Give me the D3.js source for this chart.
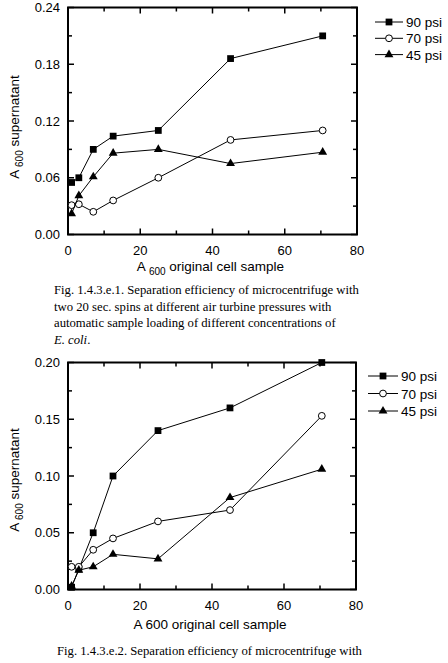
<!DOCTYPE html>
<html>
<head>
<meta charset="utf-8">
<script src="https://cdn.jsdelivr.net/npm/d3@7"></script>
<style>
  body { margin: 0; background: #fff; }
  svg { display: block; }
  .axis text { font-family: Arial, "Liberation Sans", sans-serif; font-size: 13px; fill: #000; }
  .label { font-family: Arial, "Liberation Sans", sans-serif; font-size: 13.5px; fill: #000; }
  .legend text { font-family: Arial, "Liberation Sans", sans-serif; font-size: 13.5px; fill: #000; }
  .caption { font-family: "Times New Roman", "Liberation Serif", serif; font-size: 12.7px; fill: #000; }
</style>
</head>
<body>
<svg width="448" height="663"></svg>
<script>
// Concentrations of the original cell sample (A600), shared by both figures
var xConc = [1, 3, 7, 12.5, 25, 45, 70.5];

var seriesNames = ["90 psi", "70 psi", "45 psi"];
var seriesShapes = ["square", "circle", "triangle"];

// Fig. 1.4.3.e.1
var fig1_90 = [0.055, 0.060, 0.090, 0.104, 0.110, 0.186, 0.210];
var fig1_70 = [0.031, 0.032, 0.024, 0.036, 0.060, 0.100, 0.110];
var fig1_45 = [0.022, 0.041, 0.061, 0.086, 0.090, 0.075, 0.087];

// Fig. 1.4.3.e.2
var fig2_90 = [0.002, 0.018, 0.050, 0.100, 0.140, 0.160, 0.200];
var fig2_70 = [0.020, 0.020, 0.035, 0.045, 0.060, 0.070, 0.153];
var fig2_45 = [0.003, 0.017, 0.020, 0.031, 0.027, 0.081, 0.106];

var xTicks = [0, 20, 40, 60, 80];
var xMinor = [10, 30, 50, 70];
var fig1_yTicks = [0, 0.06, 0.12, 0.18, 0.24];
var fig1_yMinor = [0.03, 0.09, 0.15, 0.21];
var fig2_yTicks = [0, 0.05, 0.10, 0.15, 0.20];
var fig2_yMinor = [0.025, 0.075, 0.125, 0.175];

var caption1 = [
  "Fig. 1.4.3.e.1. Separation efficiency of microcentrifuge with",
  "two 20 sec. spins at different air turbine pressures with",
  "automatic sample loading of different concentrations of"
];
var caption2 = ["Fig. 1.4.3.e.2. Separation efficiency of microcentrifuge with"];

var svg = d3.select("svg");
svg.append("rect").attr("width", 448).attr("height", 663).attr("fill", "#fff");

function Panel(opts){
  var g = svg.append("g")
    , x = d3.scaleLinear().domain([0, 80]).range([opts.left, opts.right])
    , y = d3.scaleLinear().domain(opts.yDomain).range([opts.bottom, opts.top])
    , majorLen = 6
    , minorLen = 4
  ;

  // Ticks on all four sides, pointing inward
  var ax = g.append("g").attr("class", "axis");
  function tickSet(vals, len, scale, horiz){
    vals.forEach(function(v){
      if(horiz){
        ax.append("line").attr("x1", scale(v)).attr("x2", scale(v))
          .attr("y1", opts.bottom).attr("y2", opts.bottom - len);
        ax.append("line").attr("x1", scale(v)).attr("x2", scale(v))
          .attr("y1", opts.top).attr("y2", opts.top + len);
      } else {
        ax.append("line").attr("y1", scale(v)).attr("y2", scale(v))
          .attr("x1", opts.left).attr("x2", opts.left + len);
        ax.append("line").attr("y1", scale(v)).attr("y2", scale(v))
          .attr("x1", opts.right).attr("x2", opts.right - len);
      }
    });
  }
  tickSet(xTicks, majorLen, x, true);
  tickSet(xMinor, minorLen, x, true);
  tickSet(opts.yTicks, majorLen, y, false);
  tickSet(opts.yMinor, minorLen, y, false);
  ax.selectAll("line").attr("stroke", "#000").attr("stroke-width", 1.5);

  // Tick labels
  ax.selectAll("text.xt").data(xTicks).enter().append("text")
      .attr("class", "xt")
      .attr("x", function(d){ return x(d); })
      .attr("y", opts.bottom + 20)
      .attr("text-anchor", "middle")
      .text(function(d){ return d; });
  ax.selectAll("text.yt").data(opts.yTicks).enter().append("text")
      .attr("class", "yt")
      .attr("x", opts.left - 8)
      .attr("y", function(d){ return y(d) + 4.5; })
      .attr("text-anchor", "end")
      .text(function(d){ return d.toFixed(2); });

  // Frame
  g.append("rect")
      .attr("x", opts.left).attr("y", opts.top)
      .attr("width", opts.right - opts.left).attr("height", opts.bottom - opts.top)
      .attr("fill", "none").attr("stroke", "#000").attr("stroke-width", 2);

  // Series lines and markers
  var line = d3.line()
      .x(function(d){ return x(d[0]); })
      .y(function(d){ return y(d[1]); });

  opts.series.forEach(function(vals, i){
    var pts = xConc.map(function(c, k){ return [c, vals[k]]; });
    g.append("path").datum(pts)
        .attr("d", line)
        .attr("fill", "none").attr("stroke", "#000").attr("stroke-width", 1);
    pts.forEach(function(p){ marker(g, seriesShapes[i], x(p[0]), y(p[1])); });
  });

  // Legend
  var lg = g.append("g").attr("class", "legend");
  seriesNames.forEach(function(name, i){
    var ly = opts.legend.y0 + i * opts.legend.step;
    lg.append("line")
        .attr("x1", opts.legend.x1).attr("x2", opts.legend.x2)
        .attr("y1", ly).attr("y2", ly)
        .attr("stroke", "#000").attr("stroke-width", 1);
    marker(lg, seriesShapes[i], (opts.legend.x1 + opts.legend.x2) / 2, ly);
    lg.append("text")
        .attr("x", opts.legend.x2 + 3).attr("y", ly + 5)
        .text(name);
  });

  // Axis titles
  var xl = g.append("text").attr("class", "label")
      .attr("x", (opts.left + opts.right) / 2 - 2)
      .attr("y", opts.xLabelY)
      .attr("text-anchor", "middle");
  if(opts.xSub){
    xl.append("tspan").text("A ");
    xl.append("tspan").attr("font-size", 10).attr("dy", 4).text("600");
    xl.append("tspan").attr("dy", -4).text(" original cell sample");
  } else {
    xl.text("A 600 original cell sample");
  }

  var yl = g.append("text").attr("class", "label")
      .attr("transform", "translate(" + opts.yLabelX + "," + opts.yLabelY + ") rotate(-90)")
      .attr("text-anchor", "middle");
  yl.append("tspan").text("A");
  yl.append("tspan").attr("font-size", 10).attr("dy", 4).text(" 600");
  yl.append("tspan").attr("dy", -4).text(" supernatant");

  return g;
} // Panel()

function marker(sel, shape, cx, cy){
  if(shape === "circle"){
    sel.append("circle").attr("cx", cx).attr("cy", cy).attr("r", 3.4)
        .attr("fill", "#fff").attr("stroke", "#000").attr("stroke-width", 1);
  } else {
    var sym = shape === "square" ? d3.symbolSquare : d3.symbolTriangle
      , size = shape === "square" ? 46 : 34;
    sel.append("path")
        .attr("d", d3.symbol().type(sym).size(size)())
        .attr("transform", "translate(" + cx + "," + cy + ")")
        .attr("fill", "#000");
  }
}

function caption(lines, x, y0, step){
  lines.forEach(function(t, i){
    svg.append("text").attr("class", "caption")
        .attr("x", x).attr("y", y0 + i * step)
        .text(t);
  });
}

Panel({
  left: 68, right: 357, top: 7.5, bottom: 234.5,
  yDomain: [0, 0.24], yTicks: fig1_yTicks, yMinor: fig1_yMinor,
  series: [fig1_90, fig1_70, fig1_45],
  legend: { x1: 375, x2: 403, y0: 22, step: 16.3 },
  xLabelY: 271, xSub: true,
  yLabelX: 19, yLabelY: 127
});

Panel({
  left: 68, right: 356, top: 362.5, bottom: 589.5,
  yDomain: [0, 0.20], yTicks: fig2_yTicks, yMinor: fig2_yMinor,
  series: [fig2_90, fig2_70, fig2_45],
  legend: { x1: 368, x2: 398, y0: 376, step: 17.5 },
  xLabelY: 629, xSub: false,
  yLabelX: 19, yLabelY: 480
});

caption(caption1, 54, 294, 16.7);
svg.append("text").attr("class", "caption")
    .attr("x", 54).attr("y", 344)
    .attr("font-style", "italic")
    .text("E. coli")
  .append("tspan").attr("font-style", "normal").text(".");
caption(caption2, 57, 655, 16.7);
</script>
</body>
</html>
